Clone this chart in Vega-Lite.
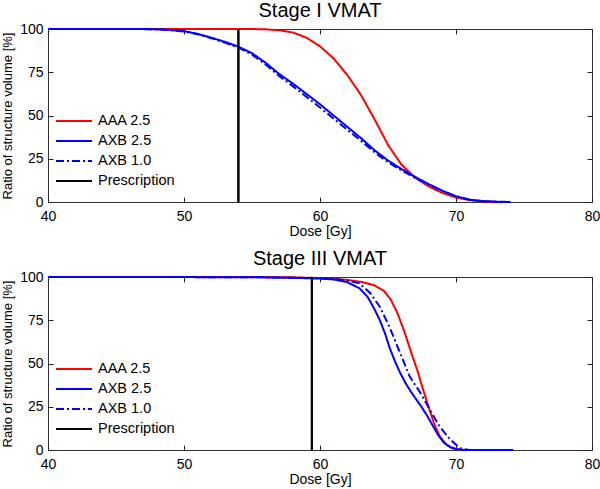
{
  "$schema": "https://vega.github.io/schema/vega-lite/v6.json",
  "padding": {"left": 1, "top": 0, "right": 6, "bottom": 2},
  "background": "white",
  "spacing": 9,
  "datasets": {
    "curves": [
      {"panel": "I", "series": "AAA 2.5", "dose": 40, "volume": 100},
      {"panel": "I", "series": "AAA 2.5", "dose": 50, "volume": 100},
      {"panel": "I", "series": "AAA 2.5", "dose": 55, "volume": 100},
      {"panel": "I", "series": "AAA 2.5", "dose": 56, "volume": 99.8},
      {"panel": "I", "series": "AAA 2.5", "dose": 57, "volume": 99.3},
      {"panel": "I", "series": "AAA 2.5", "dose": 58, "volume": 98},
      {"panel": "I", "series": "AAA 2.5", "dose": 59, "volume": 95},
      {"panel": "I", "series": "AAA 2.5", "dose": 60, "volume": 90},
      {"panel": "I", "series": "AAA 2.5", "dose": 61, "volume": 83},
      {"panel": "I", "series": "AAA 2.5", "dose": 62, "volume": 73.5},
      {"panel": "I", "series": "AAA 2.5", "dose": 63, "volume": 62},
      {"panel": "I", "series": "AAA 2.5", "dose": 64, "volume": 48},
      {"panel": "I", "series": "AAA 2.5", "dose": 65, "volume": 33},
      {"panel": "I", "series": "AAA 2.5", "dose": 66, "volume": 21.5},
      {"panel": "I", "series": "AAA 2.5", "dose": 67, "volume": 14},
      {"panel": "I", "series": "AAA 2.5", "dose": 68, "volume": 9},
      {"panel": "I", "series": "AAA 2.5", "dose": 69, "volume": 5.2},
      {"panel": "I", "series": "AAA 2.5", "dose": 70, "volume": 2.6},
      {"panel": "I", "series": "AAA 2.5", "dose": 71, "volume": 1.1},
      {"panel": "I", "series": "AAA 2.5", "dose": 72, "volume": 0.3},
      {"panel": "I", "series": "AAA 2.5", "dose": 73, "volume": 0},
      {"panel": "I", "series": "AXB 2.5", "dose": 40, "volume": 100},
      {"panel": "I", "series": "AXB 2.5", "dose": 46, "volume": 100},
      {"panel": "I", "series": "AXB 2.5", "dose": 47.5, "volume": 99.9},
      {"panel": "I", "series": "AXB 2.5", "dose": 48.5, "volume": 99.7},
      {"panel": "I", "series": "AXB 2.5", "dose": 50, "volume": 98.8},
      {"panel": "I", "series": "AXB 2.5", "dose": 51, "volume": 97.2},
      {"panel": "I", "series": "AXB 2.5", "dose": 52, "volume": 95},
      {"panel": "I", "series": "AXB 2.5", "dose": 53, "volume": 92.6},
      {"panel": "I", "series": "AXB 2.5", "dose": 54, "volume": 89.8},
      {"panel": "I", "series": "AXB 2.5", "dose": 55, "volume": 86},
      {"panel": "I", "series": "AXB 2.5", "dose": 56, "volume": 80.5},
      {"panel": "I", "series": "AXB 2.5", "dose": 57, "volume": 74},
      {"panel": "I", "series": "AXB 2.5", "dose": 58, "volume": 68.5},
      {"panel": "I", "series": "AXB 2.5", "dose": 59, "volume": 62.5},
      {"panel": "I", "series": "AXB 2.5", "dose": 60, "volume": 56.5},
      {"panel": "I", "series": "AXB 2.5", "dose": 61, "volume": 50},
      {"panel": "I", "series": "AXB 2.5", "dose": 62, "volume": 43.5},
      {"panel": "I", "series": "AXB 2.5", "dose": 63, "volume": 37},
      {"panel": "I", "series": "AXB 2.5", "dose": 64, "volume": 30},
      {"panel": "I", "series": "AXB 2.5", "dose": 65, "volume": 24},
      {"panel": "I", "series": "AXB 2.5", "dose": 66, "volume": 19},
      {"panel": "I", "series": "AXB 2.5", "dose": 67, "volume": 14.5},
      {"panel": "I", "series": "AXB 2.5", "dose": 68, "volume": 10.3},
      {"panel": "I", "series": "AXB 2.5", "dose": 69, "volume": 6.5},
      {"panel": "I", "series": "AXB 2.5", "dose": 70, "volume": 3.3},
      {"panel": "I", "series": "AXB 2.5", "dose": 71, "volume": 1.3},
      {"panel": "I", "series": "AXB 2.5", "dose": 72, "volume": 0.5},
      {"panel": "I", "series": "AXB 2.5", "dose": 73, "volume": 0.2},
      {"panel": "I", "series": "AXB 2.5", "dose": 74, "volume": 0},
      {"panel": "I", "series": "AXB 1.0", "dose": 40, "volume": 100},
      {"panel": "I", "series": "AXB 1.0", "dose": 46, "volume": 100},
      {"panel": "I", "series": "AXB 1.0", "dose": 47.5, "volume": 99.9},
      {"panel": "I", "series": "AXB 1.0", "dose": 48.5, "volume": 99.6},
      {"panel": "I", "series": "AXB 1.0", "dose": 50, "volume": 98.6},
      {"panel": "I", "series": "AXB 1.0", "dose": 51, "volume": 97},
      {"panel": "I", "series": "AXB 1.0", "dose": 52, "volume": 94.7},
      {"panel": "I", "series": "AXB 1.0", "dose": 53, "volume": 92.1},
      {"panel": "I", "series": "AXB 1.0", "dose": 54, "volume": 89.2},
      {"panel": "I", "series": "AXB 1.0", "dose": 55, "volume": 85.2},
      {"panel": "I", "series": "AXB 1.0", "dose": 56, "volume": 79.5},
      {"panel": "I", "series": "AXB 1.0", "dose": 57, "volume": 72.8},
      {"panel": "I", "series": "AXB 1.0", "dose": 58, "volume": 67},
      {"panel": "I", "series": "AXB 1.0", "dose": 59, "volume": 60.8},
      {"panel": "I", "series": "AXB 1.0", "dose": 60, "volume": 54.6},
      {"panel": "I", "series": "AXB 1.0", "dose": 61, "volume": 48.2},
      {"panel": "I", "series": "AXB 1.0", "dose": 62, "volume": 41.8},
      {"panel": "I", "series": "AXB 1.0", "dose": 63, "volume": 35.5},
      {"panel": "I", "series": "AXB 1.0", "dose": 64, "volume": 28.8},
      {"panel": "I", "series": "AXB 1.0", "dose": 65, "volume": 23},
      {"panel": "I", "series": "AXB 1.0", "dose": 66, "volume": 18.2},
      {"panel": "I", "series": "AXB 1.0", "dose": 67, "volume": 14},
      {"panel": "I", "series": "AXB 1.0", "dose": 68, "volume": 10},
      {"panel": "I", "series": "AXB 1.0", "dose": 69, "volume": 6.4},
      {"panel": "I", "series": "AXB 1.0", "dose": 70, "volume": 3.3},
      {"panel": "I", "series": "AXB 1.0", "dose": 71, "volume": 1.3},
      {"panel": "I", "series": "AXB 1.0", "dose": 72, "volume": 0.5},
      {"panel": "I", "series": "AXB 1.0", "dose": 73, "volume": 0.1},
      {"panel": "I", "series": "AXB 1.0", "dose": 74, "volume": 0},
      {"panel": "III", "series": "AAA 2.5", "dose": 40, "volume": 100},
      {"panel": "III", "series": "AAA 2.5", "dose": 55, "volume": 100},
      {"panel": "III", "series": "AAA 2.5", "dose": 58, "volume": 99.8},
      {"panel": "III", "series": "AAA 2.5", "dose": 60, "volume": 99.4},
      {"panel": "III", "series": "AAA 2.5", "dose": 62, "volume": 98.3},
      {"panel": "III", "series": "AAA 2.5", "dose": 63, "volume": 97.2},
      {"panel": "III", "series": "AAA 2.5", "dose": 64, "volume": 95.2},
      {"panel": "III", "series": "AAA 2.5", "dose": 64.7, "volume": 92},
      {"panel": "III", "series": "AAA 2.5", "dose": 65.2, "volume": 87},
      {"panel": "III", "series": "AAA 2.5", "dose": 65.7, "volume": 79},
      {"panel": "III", "series": "AAA 2.5", "dose": 66.2, "volume": 68.5},
      {"panel": "III", "series": "AAA 2.5", "dose": 66.7, "volume": 56.5},
      {"panel": "III", "series": "AAA 2.5", "dose": 67.2, "volume": 45},
      {"panel": "III", "series": "AAA 2.5", "dose": 67.6, "volume": 34.5},
      {"panel": "III", "series": "AAA 2.5", "dose": 68, "volume": 24.5},
      {"panel": "III", "series": "AAA 2.5", "dose": 68.4, "volume": 15},
      {"panel": "III", "series": "AAA 2.5", "dose": 68.8, "volume": 8},
      {"panel": "III", "series": "AAA 2.5", "dose": 69.3, "volume": 3},
      {"panel": "III", "series": "AAA 2.5", "dose": 69.8, "volume": 0.8},
      {"panel": "III", "series": "AAA 2.5", "dose": 70.3, "volume": 0},
      {"panel": "III", "series": "AXB 2.5", "dose": 40, "volume": 100},
      {"panel": "III", "series": "AXB 2.5", "dose": 55, "volume": 99.9},
      {"panel": "III", "series": "AXB 2.5", "dose": 58, "volume": 99.5},
      {"panel": "III", "series": "AXB 2.5", "dose": 60, "volume": 99.1},
      {"panel": "III", "series": "AXB 2.5", "dose": 61, "volume": 98.6},
      {"panel": "III", "series": "AXB 2.5", "dose": 62, "volume": 97},
      {"panel": "III", "series": "AXB 2.5", "dose": 62.9, "volume": 93.5},
      {"panel": "III", "series": "AXB 2.5", "dose": 63.5, "volume": 88.5},
      {"panel": "III", "series": "AXB 2.5", "dose": 64, "volume": 81.5},
      {"panel": "III", "series": "AXB 2.5", "dose": 64.4, "volume": 75},
      {"panel": "III", "series": "AXB 2.5", "dose": 64.8, "volume": 67},
      {"panel": "III", "series": "AXB 2.5", "dose": 65.1, "volume": 59.5},
      {"panel": "III", "series": "AXB 2.5", "dose": 65.5, "volume": 51.5},
      {"panel": "III", "series": "AXB 2.5", "dose": 65.9, "volume": 44.5},
      {"panel": "III", "series": "AXB 2.5", "dose": 66.3, "volume": 38.5},
      {"panel": "III", "series": "AXB 2.5", "dose": 66.7, "volume": 33.5},
      {"panel": "III", "series": "AXB 2.5", "dose": 67.1, "volume": 29},
      {"panel": "III", "series": "AXB 2.5", "dose": 67.5, "volume": 24.5},
      {"panel": "III", "series": "AXB 2.5", "dose": 67.9, "volume": 19.5},
      {"panel": "III", "series": "AXB 2.5", "dose": 68.3, "volume": 14},
      {"panel": "III", "series": "AXB 2.5", "dose": 68.7, "volume": 8.5},
      {"panel": "III", "series": "AXB 2.5", "dose": 69.1, "volume": 4.3},
      {"panel": "III", "series": "AXB 2.5", "dose": 69.6, "volume": 1.6},
      {"panel": "III", "series": "AXB 2.5", "dose": 70.1, "volume": 0.4},
      {"panel": "III", "series": "AXB 2.5", "dose": 70.6, "volume": 0},
      {"panel": "III", "series": "AXB 2.5", "dose": 74.2, "volume": 0},
      {"panel": "III", "series": "AXB 1.0", "dose": 40, "volume": 100},
      {"panel": "III", "series": "AXB 1.0", "dose": 55, "volume": 99.9},
      {"panel": "III", "series": "AXB 1.0", "dose": 58, "volume": 99.6},
      {"panel": "III", "series": "AXB 1.0", "dose": 60, "volume": 99.3},
      {"panel": "III", "series": "AXB 1.0", "dose": 61, "volume": 98.9},
      {"panel": "III", "series": "AXB 1.0", "dose": 62, "volume": 98},
      {"panel": "III", "series": "AXB 1.0", "dose": 62.9, "volume": 96.3},
      {"panel": "III", "series": "AXB 1.0", "dose": 63.7, "volume": 90.6},
      {"panel": "III", "series": "AXB 1.0", "dose": 64.4, "volume": 82.8},
      {"panel": "III", "series": "AXB 1.0", "dose": 65.1, "volume": 71.3},
      {"panel": "III", "series": "AXB 1.0", "dose": 65.9, "volume": 55.9},
      {"panel": "III", "series": "AXB 1.0", "dose": 66.6, "volume": 42.4},
      {"panel": "III", "series": "AXB 1.0", "dose": 67.4, "volume": 32.8},
      {"panel": "III", "series": "AXB 1.0", "dose": 68.1, "volume": 23},
      {"panel": "III", "series": "AXB 1.0", "dose": 68.8, "volume": 13.5},
      {"panel": "III", "series": "AXB 1.0", "dose": 69.6, "volume": 5.8},
      {"panel": "III", "series": "AXB 1.0", "dose": 70.3, "volume": 1},
      {"panel": "III", "series": "AXB 1.0", "dose": 71, "volume": 0}
    ],
    "rx": [
      {"panel": "I", "series": "Prescription", "dose": 54},
      {"panel": "III", "series": "Prescription", "dose": 59.4}
    ]
  },
  "config": {
    "font": "Liberation Sans",
    "view": {"stroke": "#333333", "strokeWidth": 1},
    "axis": {
      "domain": false, "grid": false,
      "tickColor": "#222222", "tickSize": 5, "tickWidth": 1,
      "labelFont": "Liberation Sans", "labelFontSize": 14, "labelColor": "black",
      "labelFlush": false,
      "titleFont": "Liberation Sans", "titleFontWeight": "normal", "titleColor": "black"
    },
    "legend": {
      "orient": "none", "legendX": 7, "legendY": 85,
      "symbolType": "stroke", "symbolSize": 1296, "symbolStrokeWidth": 2,
      "labelFont": "Liberation Sans", "labelFontSize": 14.5, "labelColor": "black",
      "labelOffset": 5, "clipHeight": 14, "rowPadding": 5, "padding": 0
    },
    "title": {"font": "Liberation Sans", "fontSize": 20, "fontWeight": "normal", "color": "black", "offset": 1, "anchor": "middle"}
  },
  "resolve": {"scale": {"color": "independent", "strokeDash": "independent"}},
  "vconcat": [
    {
      "title": "Stage I VMAT",
      "width": 544, "height": 173,
      "layer": [
        {
          "data": {"name": "curves"},
          "transform": [{"filter": "datum.panel === 'I'"}],
          "mark": {"type": "line", "strokeWidth": 2},
          "encoding": {
            "x": {"field": "dose", "type": "quantitative", "scale": {"domain": [40, 80], "nice": false},
                  "axis": {"orient": "bottom", "values": [40, 50, 60, 70, 80], "ticks": false, "tickSize": 0, "labelPadding": 7, "title": "Dose [Gy]", "titleFontSize": 14, "titlePadding": 1}},
            "y": {"field": "volume", "type": "quantitative", "scale": {"domain": [0, 100], "nice": false},
                  "axis": {"orient": "left", "values": [0, 25, 50, 75, 100], "ticks": false, "tickSize": 0, "labelPadding": 5, "title": "Ratio of structure volume [%]", "titleFontSize": 13, "titlePadding": 5}},
            "color": {"field": "series", "type": "nominal",
                      "scale": {"domain": ["AAA 2.5", "AXB 2.5", "AXB 1.0", "Prescription"], "range": ["#ff0000", "#0000ff", "#0000ff", "#000000"]},
                      "legend": {"title": null}},
            "strokeDash": {"field": "series", "type": "nominal",
                           "scale": {"domain": ["AAA 2.5", "AXB 2.5", "AXB 1.0", "Prescription"], "range": [[1, 0], [1, 0], [8, 3, 2, 3], [1, 0]]},
                           "legend": {"title": null}}
          }
        },
        {
          "data": {"name": "rx"},
          "transform": [{"filter": "datum.panel === 'I'"}],
          "mark": {"type": "rule", "strokeWidth": 2},
          "encoding": {
            "x": {"field": "dose", "type": "quantitative",
                  "axis": {"orient": "top", "offset": -173, "values": [40, 50, 60, 70, 80], "labels": false, "title": null, "minExtent": 0, "maxExtent": 0}},
            "y": {"datum": 0, "type": "quantitative",
                  "axis": {"orient": "right", "offset": -544, "values": [0, 25, 50, 75, 100], "labels": false, "title": null, "minExtent": 0, "maxExtent": 0}},
            "y2": {"datum": 100},
            "color": {"field": "series", "type": "nominal", "legend": {"title": null}}
          }
        },
        {
          "data": {"name": "rx"},
          "transform": [{"filter": "datum.panel === 'I'"}],
          "mark": {"type": "rule", "strokeWidth": 2},
          "encoding": {
            "x": {"field": "dose", "type": "quantitative",
                  "axis": {"orient": "bottom", "offset": -173, "values": [40, 50, 60, 70, 80], "labels": false, "title": null, "minExtent": 0, "maxExtent": 0}},
            "y": {"datum": 0, "type": "quantitative",
                  "axis": {"orient": "left", "offset": -544, "values": [0, 25, 50, 75, 100], "labels": false, "title": null, "minExtent": 0, "maxExtent": 0}},
            "y2": {"datum": 100},
            "color": {"field": "series", "type": "nominal", "legend": {"title": null}}
          }
        }
      ],
      "resolve": {"axis": {"x": "independent", "y": "independent"}}
    },
    {
      "title": "Stage III VMAT",
      "width": 544, "height": 173,
      "layer": [
        {
          "data": {"name": "curves"},
          "transform": [{"filter": "datum.panel === 'III'"}],
          "mark": {"type": "line", "strokeWidth": 2},
          "encoding": {
            "x": {"field": "dose", "type": "quantitative", "scale": {"domain": [40, 80], "nice": false},
                  "axis": {"orient": "bottom", "values": [40, 50, 60, 70, 80], "ticks": false, "tickSize": 0, "labelPadding": 7, "title": "Dose [Gy]", "titleFontSize": 14, "titlePadding": 1}},
            "y": {"field": "volume", "type": "quantitative", "scale": {"domain": [0, 100], "nice": false},
                  "axis": {"orient": "left", "values": [0, 25, 50, 75, 100], "ticks": false, "tickSize": 0, "labelPadding": 5, "title": "Ratio of structure volume [%]", "titleFontSize": 13, "titlePadding": 5}},
            "color": {"field": "series", "type": "nominal",
                      "scale": {"domain": ["AAA 2.5", "AXB 2.5", "AXB 1.0", "Prescription"], "range": ["#ff0000", "#0000ff", "#0000ff", "#000000"]},
                      "legend": {"title": null}},
            "strokeDash": {"field": "series", "type": "nominal",
                           "scale": {"domain": ["AAA 2.5", "AXB 2.5", "AXB 1.0", "Prescription"], "range": [[1, 0], [1, 0], [8, 3, 2, 3], [1, 0]]},
                           "legend": {"title": null}}
          }
        },
        {
          "data": {"name": "rx"},
          "transform": [{"filter": "datum.panel === 'III'"}],
          "mark": {"type": "rule", "strokeWidth": 2},
          "encoding": {
            "x": {"field": "dose", "type": "quantitative",
                  "axis": {"orient": "top", "offset": -173, "values": [40, 50, 60, 70, 80], "labels": false, "title": null, "minExtent": 0, "maxExtent": 0}},
            "y": {"datum": 0, "type": "quantitative",
                  "axis": {"orient": "right", "offset": -544, "values": [0, 25, 50, 75, 100], "labels": false, "title": null, "minExtent": 0, "maxExtent": 0}},
            "y2": {"datum": 100},
            "color": {"field": "series", "type": "nominal", "legend": {"title": null}}
          }
        },
        {
          "data": {"name": "rx"},
          "transform": [{"filter": "datum.panel === 'III'"}],
          "mark": {"type": "rule", "strokeWidth": 2},
          "encoding": {
            "x": {"field": "dose", "type": "quantitative",
                  "axis": {"orient": "bottom", "offset": -173, "values": [40, 50, 60, 70, 80], "labels": false, "title": null, "minExtent": 0, "maxExtent": 0}},
            "y": {"datum": 0, "type": "quantitative",
                  "axis": {"orient": "left", "offset": -544, "values": [0, 25, 50, 75, 100], "labels": false, "title": null, "minExtent": 0, "maxExtent": 0}},
            "y2": {"datum": 100},
            "color": {"field": "series", "type": "nominal", "legend": {"title": null}}
          }
        }
      ],
      "resolve": {"axis": {"x": "independent", "y": "independent"}}
    }
  ]
}
